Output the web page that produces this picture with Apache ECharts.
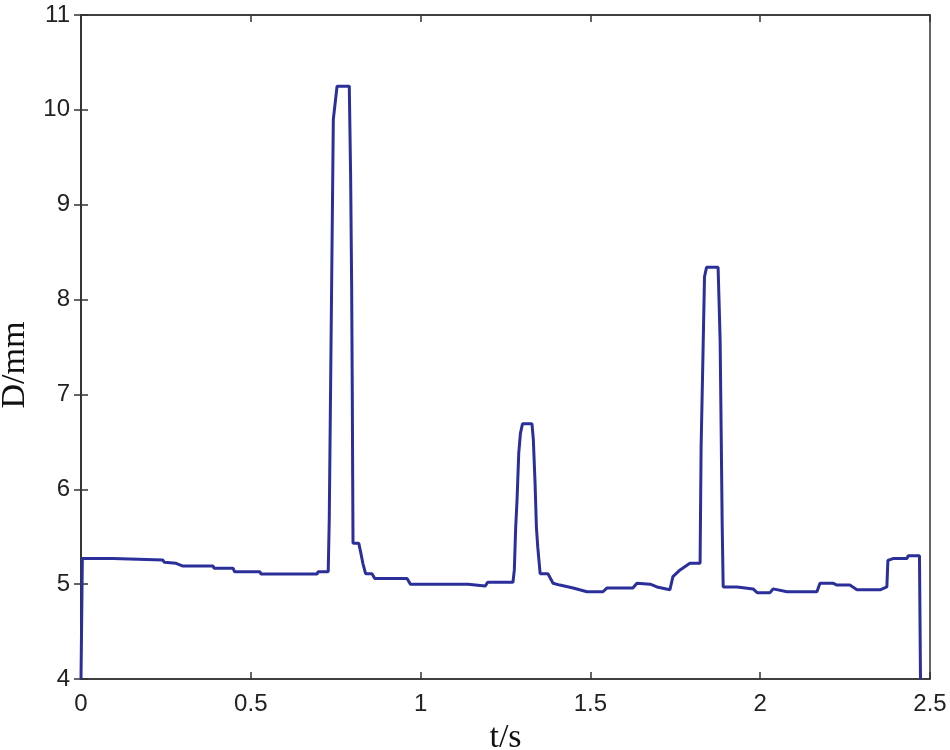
<!DOCTYPE html>
<html>
<head>
<meta charset="utf-8">
<script src="https://cdn.jsdelivr.net/npm/echarts@6/dist/echarts.min.js"></script>
<style>html,body{margin:0;padding:0;background:#fff}#c{width:950px;height:750px}</style>
</head>
<body>
<div id="c"></div>
<script>
// time (s)
var tValues = [0,0.004,0.094,0.096,0.241,0.245,0.28,0.300,0.389,0.392,0.448,0.452,0.527,0.53,0.695,0.698,0.728,0.731,0.735,0.739,0.743,0.754,0.790,0.794,0.797,0.799,0.800,0.801,0.818,0.824,0.83,0.838,0.857,0.865,0.96,0.97,1.14,1.143,1.19,1.198,1.272,1.276,1.28,1.284,1.289,1.294,1.300,1.328,1.332,1.337,1.341,1.345,1.352,1.375,1.39,1.41,1.449,1.49,1.537,1.549,1.625,1.637,1.676,1.696,1.734,1.743,1.764,1.793,1.823,1.826,1.831,1.836,1.842,1.876,1.879,1.882,1.885,1.888,1.891,1.932,1.935,1.979,1.991,2.029,2.038,2.079,2.167,2.176,2.214,2.226,2.264,2.285,2.353,2.373,2.376,2.391,2.432,2.436,2.469,2.472];
// D (mm)
var dValues = [4.0,5.27,5.27,5.255,5.255,5.23,5.22,5.19,5.19,5.167,5.167,5.13,5.13,5.107,5.107,5.13,5.13,5.68,7.08,8.49,9.9,10.25,10.25,9.29,8.13,6.91,6.13,5.43,5.43,5.33,5.22,5.11,5.11,5.06,5.06,5.0,5.0,4.98,4.98,5.02,5.02,5.15,5.6,5.89,6.38,6.59,6.69,6.69,6.52,6.07,5.6,5.39,5.11,5.11,5.01,4.99,4.96,4.92,4.92,4.96,4.96,5.01,5.0,4.97,4.94,5.08,5.15,5.22,5.22,6.45,7.33,8.24,8.34,8.34,7.96,7.57,6.63,5.64,4.97,4.97,4.95,4.95,4.91,4.91,4.95,4.92,4.92,5.01,5.01,4.99,4.99,4.94,4.94,4.97,5.25,5.27,5.27,5.3,5.3,4.0];
var xTicks = [0, 0.5, 1, 1.5, 2, 2.5];
var yTicks = [4, 5, 6, 7, 8, 9, 10, 11];

var pts = tValues.map(function (t, i) { return [t, dValues[i]]; });
var chart = echarts.init(document.getElementById('c'));
var labelStyle = { color: '#222', fontFamily: 'Liberation Sans, Arial, sans-serif', fontSize: 24 };
var axisLine = { show: true, lineStyle: { color: '#333', width: 1.5 } };
var tickIn = { show: true, inside: true, length: 7, lineStyle: { color: '#333', width: 1.5 } };
chart.setOption({
  animation: false,
  backgroundColor: '#fff',
  grid: { left: 81, right: 20, top: 15, bottom: 71, containLabel: false, outerBoundsMode: 'none',
          show: true, borderColor: '#333', borderWidth: 1.5 },
  xAxis: [{
    type: 'value', min: 0, max: 2.5, interval: 0.5,
    name: 't/s', nameLocation: 'middle', nameGap: 32,
    nameTextStyle: { fontFamily: 'Liberation Serif, Times New Roman, serif', fontSize: 34, color: '#111' },
    axisLine: axisLine, axisTick: tickIn, splitLine: { show: false },
    axisLabel: Object.assign({ margin: 13, formatter: function (v) { return String(v); } }, labelStyle)
  }, {
    type: 'value', min: 0, max: 2.5, interval: 0.5, position: 'top',
    axisLine: axisLine, axisTick: tickIn, splitLine: { show: false }, axisLabel: { show: false }
  }],
  yAxis: [{
    type: 'value', min: 4, max: 11, interval: 1,
    name: 'D/mm', nameLocation: 'middle', nameGap: 44,
    nameTextStyle: { fontFamily: 'Liberation Serif, Times New Roman, serif', fontSize: 34, color: '#111', padding: [0, 36, 0, 0] },
    axisLine: axisLine, axisTick: tickIn, splitLine: { show: false },
    axisLabel: Object.assign({ margin: 11 }, labelStyle)
  }, {
    type: 'value', min: 4, max: 11, interval: 1, position: 'right',
    axisLine: axisLine, axisTick: tickIn, splitLine: { show: false }, axisLabel: { show: false }
  }],
  series: [{
    type: 'line', data: pts, showSymbol: false, symbol: 'none',
    lineStyle: { color: '#2a2f9a', width: 3 },
    xAxisIndex: 0, yAxisIndex: 0
  }]
});
</script>
</body>
</html>
